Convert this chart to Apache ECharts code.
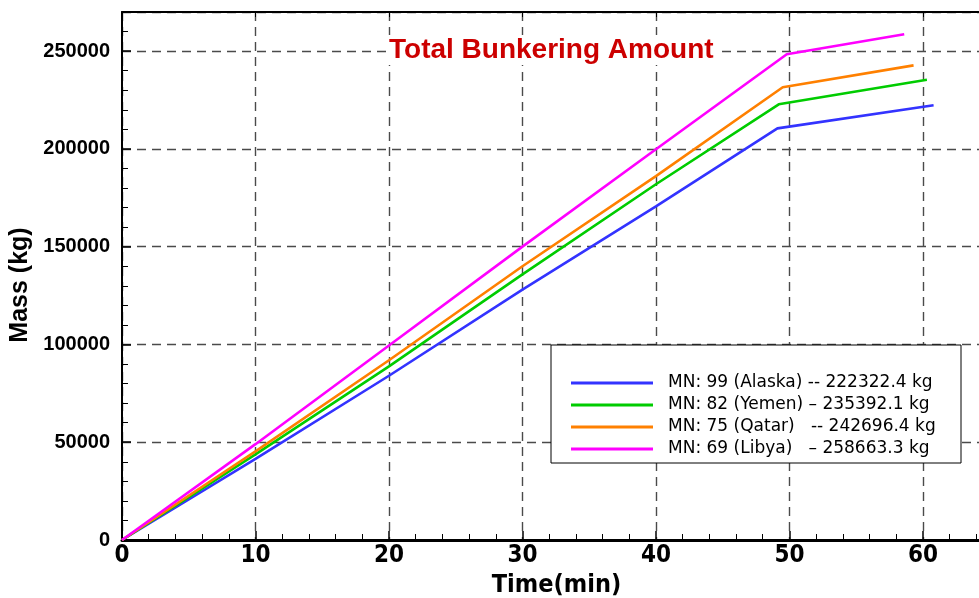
<!DOCTYPE html>
<html>
<head>
<meta charset="utf-8">
<script src="https://cdn.jsdelivr.net/npm/echarts@6/dist/echarts.min.js"></script>
<style>
  html, body { margin: 0; padding: 0; background: #fff; }
  #chart { width: 979px; height: 598px; }
</style>
</head>
<body>
<div id="chart"></div>
<script>
// Bunkering mass over time for four LNG compositions
const seriesNames = [
  'MN: 99 (Alaska) -- 222322.4 kg',
  'MN: 82 (Yemen) \u2013 235392.1 kg',
  'MN: 75 (Qatar)   -- 242696.4 kg',
  'MN: 69 (Libya)   \u2013 258663.3 kg'
];
const seriesColors = ['#3333ff', '#00cc00', '#ff8000', '#ff00ff'];

// time (min) and accumulated mass (kg) for each case
const alaskaTime = [0, 10, 20, 30, 40, 49.1, 60.8];
const alaskaMass = [0, 41500, 84000, 128000, 170600, 210500, 222322.4];
const yemenTime  = [0, 10, 20, 30, 40, 49.2, 60.3];
const yemenMass  = [0, 43800, 88800, 135800, 181900, 222800, 235392.1];
const qatarTime  = [0, 10, 20, 30, 40, 49.5, 59.3];
const qatarMass  = [0, 45300, 91900, 140000, 186100, 231500, 242696.4];
const libyaTime  = [0, 10, 20, 30, 40, 49.8, 58.6];
const libyaMass  = [0, 49000, 99500, 150000, 199800, 248400, 258663.3];

const xTicks = [0, 10, 20, 30, 40, 50, 60];
const yTicks = [0, 50000, 100000, 150000, 200000, 250000];

const allTimes = [alaskaTime, yemenTime, qatarTime, libyaTime];
const allMass = [alaskaMass, yemenMass, qatarMass, libyaMass];

const pairs = (t, m) => t.map((v, i) => [v, m[i]]);

const boldFont = "'Liberation Sans', Arial, sans-serif";
const legendFont = "'DejaVu Sans', 'Liberation Sans', sans-serif";
const narrowFont = "'DejaVu Sans Condensed', 'Liberation Sans', sans-serif";

const chart = echarts.init(document.getElementById('chart'), null, { renderer: 'canvas' });

const gridDash = { color: '#4a4a4a', width: 1.4, type: [9, 6] };

chart.setOption({
  animation: false,
  backgroundColor: '#fff',
  title: {
    text: 'Total Bunkering Amount',
    left: 386,
    top: 35,
    padding: [1, 3],
    backgroundColor: '#fff',
    textStyle: { fontFamily: boldFont, fontWeight: 'bold', fontSize: 28, color: '#cc0000' }
  },
  legend: {
    orient: 'vertical',
    left: 551,
    top: 345,
    padding: [27, 18, 3, 20],
    itemGap: 0,
    itemWidth: 82,
    itemHeight: 3,
    icon: 'rect',
    backgroundColor: '#fff',
    borderColor: '#000',
    borderWidth: 1,
    borderRadius: 0,
    data: seriesNames,
    textStyle: {
      fontFamily: legendFont, fontSize: 17, color: '#000',
      lineHeight: 22, padding: [0, 0, 0, 10], width: 275
    }
  },
  grid: { left: 122, top: 12, right: -24, bottom: 58, containLabel: false, outerBoundsMode: 'none' },
  xAxis: [{
    type: 'value', min: 0, max: 66, interval: 10,
    name: 'Time(min)', nameLocation: 'middle', nameGap: 24,
    nameTextStyle: { fontFamily: narrowFont, fontWeight: 'bold', fontSize: 25, color: '#000', padding: [0, 12, 0, 0] },
    axisLine: { show: true, onZero: false, lineStyle: { color: '#000', width: 3 } },
    axisTick: { show: true, inside: true, length: 9, lineStyle: { color: '#000', width: 1.5 } },
    minorTick: { show: true, splitNumber: 5, length: 6, lineStyle: { color: '#000', width: 1 } },
    axisLabel: {
      margin: 4, fontFamily: narrowFont, fontWeight: 'bold', fontSize: 24, color: '#000',
      formatter: v => (xTicks.includes(v) ? String(v) : '')
    },
    splitLine: { show: true, lineStyle: gridDash }
  }, {
    type: 'value', min: 0, max: 66, interval: 10, position: 'top',
    axisLine: { show: true, onZero: false, lineStyle: { color: '#000', width: 2 } },
    axisTick: { show: true, inside: true, length: 5, lineStyle: { color: '#000', width: 1 } },
    axisLabel: { show: false },
    splitLine: { show: false }
  }],
  yAxis: {
    type: 'value', min: 0, max: 270000, interval: 50000,
    name: 'Mass (kg)', nameLocation: 'middle', nameGap: 84, nameRotate: 90,
    nameTextStyle: { fontFamily: boldFont, fontWeight: 'bold', fontSize: 25, color: '#000', padding: [0, 18, 0, 0] },
    axisLine: { show: true, onZero: false, lineStyle: { color: '#000', width: 2 } },
    axisTick: { show: true, inside: true, length: 9, lineStyle: { color: '#000', width: 1.5 } },
    minorTick: { show: true, splitNumber: 5, length: 6, lineStyle: { color: '#000', width: 1 } },
    axisLabel: {
      margin: 12, fontFamily: boldFont, fontWeight: 'bold', fontSize: 20, color: '#000',
      showMaxLabel: false,
      formatter: v => (yTicks.includes(v) ? String(v) : '')
    },
    splitLine: { show: true, lineStyle: gridDash }
  },
  series: seriesNames.map((name, i) => ({
    name,
    type: 'line',
    data: pairs(allTimes[i], allMass[i]),
    showSymbol: false,
    symbol: 'none',
    color: seriesColors[i],
    lineStyle: { color: seriesColors[i], width: 2.6 },
    z: 3
  }))
});
</script>
</body>
</html>
